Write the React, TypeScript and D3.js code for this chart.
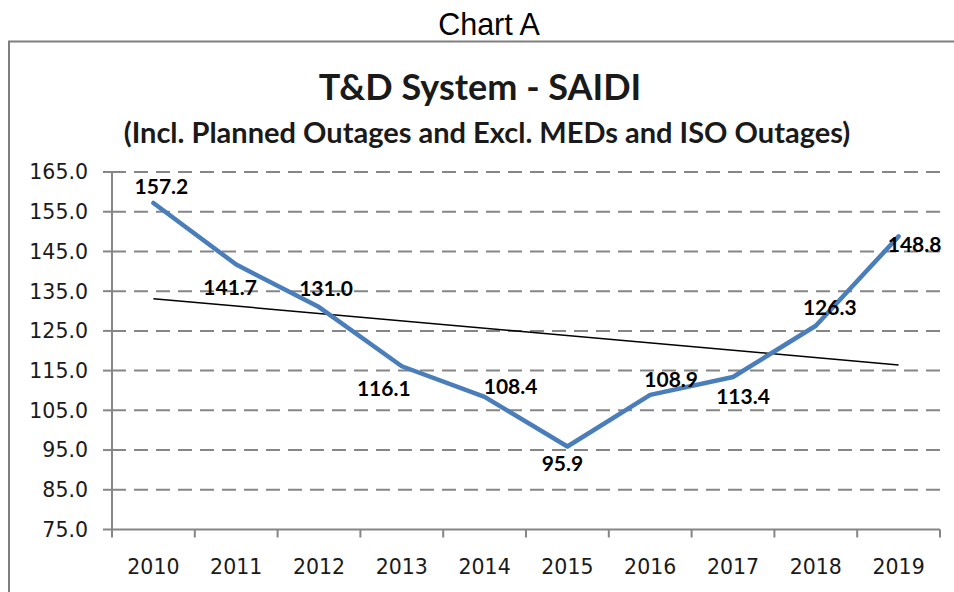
import { scaleBand, scaleLinear, line, mean, sum } from "d3";

const years = ["2010", "2011", "2012", "2013", "2014", "2015", "2016", "2017", "2018", "2019"];
const saidi = [157.2, 141.7, 131.0, 116.1, 108.4, 95.9, 108.9, 113.4, 126.3, 148.8];
const yTicks = [75, 85, 95, 105, 115, 125, 135, 145, 155, 165];

// where Excel put each data label, relative to its point
const labelDx = [8, -6, 7, -18, 26, -5, 21, 10, 14, 16];
const labelDy = [-17, 23, -19, 22, -10, 17, -15, 19, -18, 8];

const width = 954;
const height = 592;
const marginLeft = 112;
const plotRight = 940;
const plotTop = 172;
const plotBottom = 529.5;

const axisFont = "'DejaVu Sans', Verdana, sans-serif";
const chartFont = "Lato, 'Open Sans', sans-serif";

export default function App() {
  const x = scaleBand().domain(years).range([marginLeft, plotRight]).padding(0);
  const y = scaleLinear().domain([75, 165]).range([plotBottom, plotTop]);
  const cx = (i: number) => (x(years[i]) as number) + x.bandwidth() / 2;

  const points = saidi.map((v, i) => [cx(i), y(v)] as [number, number]);
  const path = line()(points);

  // linear trendline (least squares over the category index)
  const idx = saidi.map((_, i) => i);
  const mx = mean(idx) as number;
  const my = mean(saidi) as number;
  const slope =
    sum(idx, (i) => (i - mx) * (saidi[i] - my)) / sum(idx, (i) => (i - mx) ** 2);
  const trendAt = (i: number) => my + slope * (i - mx);
  const last = years.length - 1;

  return (
    <div style={{ position: "absolute", left: 0, top: 0 }}>
      <svg width={width} height={height} style={{ display: "block", background: "white" }}>
        <text
          x={489}
          y={35}
          textAnchor="middle"
          fontFamily="'Liberation Sans', Arial, sans-serif"
          fontSize={30.5}
          fill="#000">
          Chart A
        </text>

        {/* frame of the pasted chart */}
        <path d={`M9,${height} V41.5 H${width}`} fill="none" stroke="#7f7f7f" strokeWidth={2} />

        <text
          x={480}
          y={100}
          textAnchor="middle"
          fontFamily={chartFont}
          fontWeight="bold"
          fontSize={36}
          fill="#1a1a1a">
          T&amp;D System - SAIDI
        </text>
        <text
          x={487}
          y={143}
          textAnchor="middle"
          fontFamily={chartFont}
          fontWeight="bold"
          fontSize={29}
          fill="#1a1a1a">
          (Incl. Planned Outages and Excl. MEDs and ISO Outages)
        </text>

        {/* gridlines */}
        {yTicks
          .filter((t) => t !== 75)
          .map((t) => (
            <line
              key={t}
              x1={marginLeft}
              x2={plotRight}
              y1={y(t)}
              y2={y(t)}
              stroke="#868686"
              strokeWidth={2}
              strokeDasharray="14 8"
            />
          ))}

        {/* y axis */}
        <line x1={marginLeft} x2={marginLeft} y1={plotTop} y2={plotBottom} stroke="#868686" strokeWidth={2} />
        {yTicks.map((t) => (
          <g key={t}>
            <line x1={marginLeft - 9} x2={marginLeft} y1={y(t)} y2={y(t)} stroke="#868686" strokeWidth={2} />
            <text
              x={88}
              y={y(t)}
              dy="0.36em"
              textAnchor="end"
              fontFamily={axisFont}
              fontSize={20.5}
              fill="#1a1a1a">
              {t.toFixed(1)}
            </text>
          </g>
        ))}

        {/* x axis */}
        <line x1={marginLeft} x2={plotRight} y1={plotBottom} y2={plotBottom} stroke="#868686" strokeWidth={2} />
        {[...years.map((d) => x(d) as number), plotRight].map((tx, i) => (
          <line key={i} x1={tx} x2={tx} y1={plotBottom} y2={plotBottom + 8} stroke="#868686" strokeWidth={2} />
        ))}
        {years.map((d, i) => (
          <text
            key={d}
            x={cx(i)}
            y={574}
            textAnchor="middle"
            fontFamily={axisFont}
            fontSize={20.5}
            fill="#1a1a1a">
            {d}
          </text>
        ))}

        {/* trendline */}
        <line
          x1={cx(0)}
          x2={cx(last)}
          y1={y(trendAt(0))}
          y2={y(trendAt(last))}
          stroke="#000"
          strokeWidth={1.5}
        />

        {/* series */}
        <path d={path ?? ""} fill="none" stroke="#4a7ebb" strokeWidth={4.5} strokeLinejoin="round" strokeLinecap="round" />

        {saidi.map((v, i) => (
          <text
            key={years[i]}
            x={cx(i) + labelDx[i]}
            y={y(v) + labelDy[i]}
            dy="0.36em"
            textAnchor="middle"
            fontFamily={chartFont}
            fontWeight="bold"
            fontSize={21}
            fill="#000">
            {v.toFixed(1)}
          </text>
        ))}
      </svg>
    </div>
  );
}
